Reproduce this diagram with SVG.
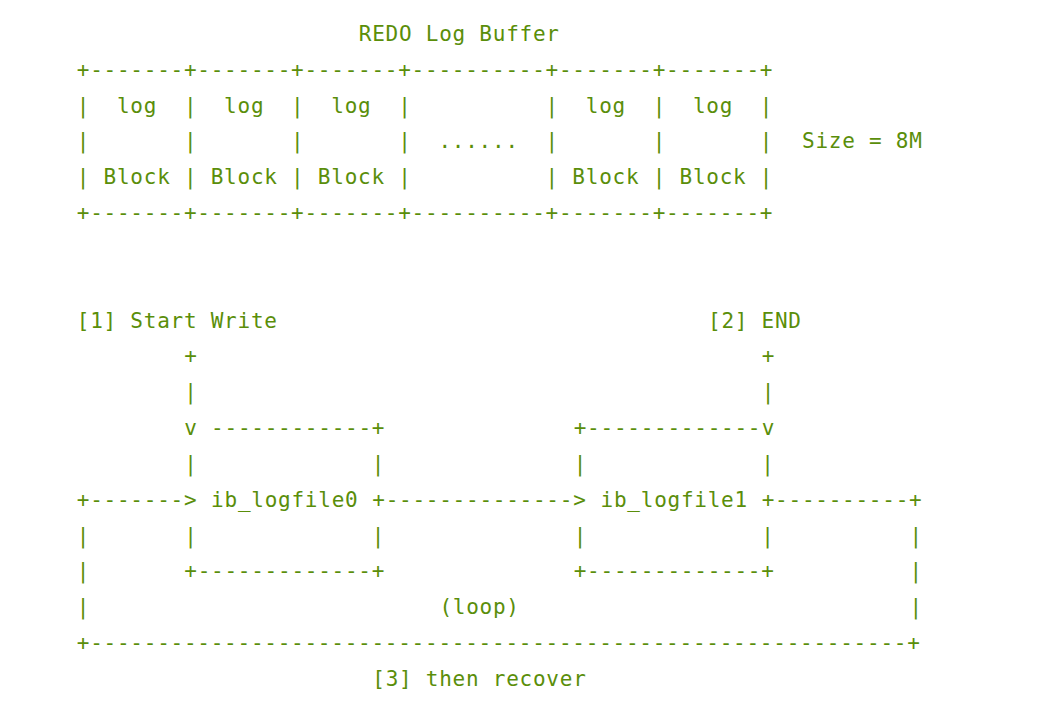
<svg xmlns="http://www.w3.org/2000/svg" width="1060" height="714" viewBox="0 0 1060 714">
<style>
text{font-family:"DejaVu Sans Mono","Liberation Mono",monospace;font-size:21px;fill:#5a8e0a;letter-spacing:0.75px;white-space:pre}
</style>
<rect width="1060" height="714" fill="#ffffff"/>
<g transform="translate(2.5,0.5)">
<g id="redo-log-buffer" xml:space="preserve">
<text x="356.33" y="40.5">REDO Log Buffer</text>
<text x="74.3" y="76.33">+-------+-------+-------+----------+-------+-------+</text>
<text x="74.3" y="112.16">|  log  |  log  |  log  |          |  log  |  log  |</text>
<text x="74.3" y="147.99">|       |       |       |  ......  |       |       |</text>
<text x="74.3" y="183.82">| Block | Block | Block |          | Block | Block |</text>
<text x="74.3" y="219.65">+-------+-------+-------+----------+-------+-------+</text>
<text x="799.52" y="147.99">Size = 8M</text>
</g>
<g id="start-write">
<text x="74.3" y="327.14">[1] Start Write</text>
</g>
<g id="end">
<text x="705.51" y="327.14">[2] END</text>
</g>
<g id="ib_logfile0" xml:space="preserve">
<text x="208.6" y="434.63">------------+</text>
<text x="181.74" y="470.46">|             |</text>
<text x="208.6" y="506.29">ib_logfile0</text>
<text x="181.74" y="542.12">|             |</text>
<text x="181.74" y="577.95">+-------------+</text>
</g>
<g id="ib_logfile1" xml:space="preserve">
<text x="571.21" y="434.63">+-------------</text>
<text x="571.21" y="470.46">|             |</text>
<text x="598.07" y="506.29">ib_logfile1</text>
<text x="571.21" y="542.12">|             |</text>
<text x="571.21" y="577.95">+-------------+</text>
</g>
<g id="connectors" xml:space="preserve">
<text x="181.74" y="362.97">+</text>
<text x="181.74" y="398.8">|</text>
<text x="181.74" y="434.63">v</text>
<text x="759.23" y="362.97">+</text>
<text x="759.23" y="398.8">|</text>
<text x="759.23" y="434.63">v</text>
<text x="74.3" y="506.29">+-------></text>
<text x="369.76" y="506.29">+--------------></text>
<text x="759.23" y="506.29">+----------+</text>
<text x="74.3" y="542.12">|</text>
<text x="906.96" y="542.12">|</text>
<text x="74.3" y="577.95">|</text>
<text x="906.96" y="577.95">|</text>
<text x="74.3" y="613.78">|</text>
<text x="436.91" y="613.78">(loop)</text>
<text x="906.96" y="613.78">|</text>
<text x="74.3" y="649.61">+-------------------------------------------------------------+</text>
</g>
<g id="recover">
<text x="369.76" y="685.44">[3] then recover</text>
</g>
</g>
</svg>
